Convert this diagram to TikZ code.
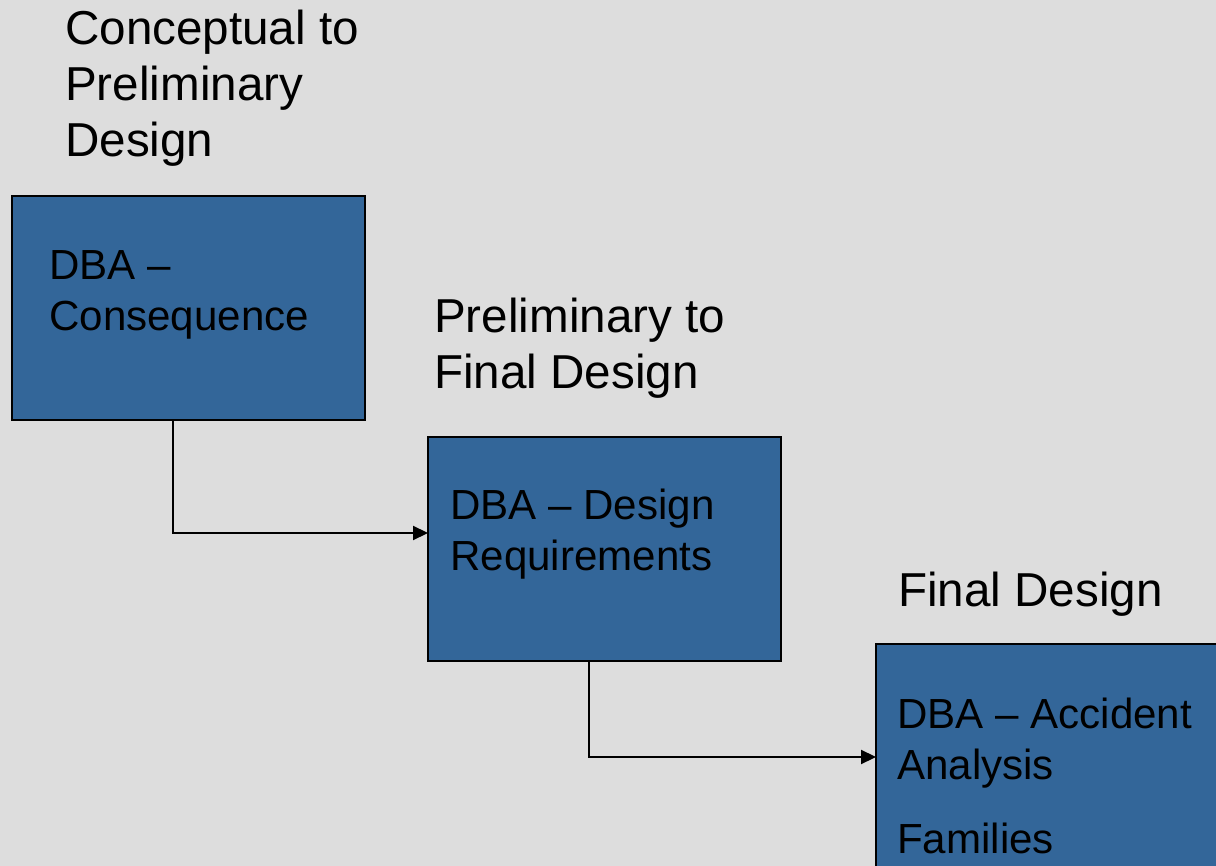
\documentclass[tikz,border=0pt]{standalone}
\usepackage{fontspec}
\setmainfont{Liberation Sans}
\usetikzlibrary{arrows.meta}
\definecolor{slidebg}{HTML}{DDDDDD}
\definecolor{stepblue}{HTML}{336699}
\tikzset{
  stepbox/.style={draw=black, line width=2pt, fill=stepblue, rectangle,
    minimum width=353pt, minimum height=224pt, inner sep=0pt, outer sep=0pt,
    anchor=north west},
  plaintext/.style={anchor=base west, inner sep=0pt, align=left,
    execute at begin node={\spaceskip=0pt\xspaceskip=0pt}},
  phase/.style={plaintext, text width=340pt, font=\fontsize{47.6}{56}\selectfont},
  boxtext/.style={plaintext, text width=330pt, font=\fontsize{42.1}{51}\selectfont},
  conn/.style={draw=black, line width=2.2pt, -{Triangle[length=15pt,width=14pt]}}
}
\begin{document}
\begin{tikzpicture}[x=1pt, y=-1pt]
  % page area and background
  \useasboundingbox (0,0) rectangle (1216,866);
  \clip (0,0) rectangle (1216,866);
  \fill[slidebg] (0,0) rectangle (1216,866);

  % phase headings
  \node[phase] (h1) at (65,45) {Conceptual to\\Preliminary\\Design};
  \node[phase] (h2) at (434,333) {Preliminary to\\Final Design};
  \node[phase] (h3) at (898,606) {Final Design};

  % step boxes
  \node[stepbox] (b1) at (12,196) {};
  \node[stepbox] (b2) at (428,437) {};
  \node[stepbox] (b3) at (876,644) {};

  % box labels
  \node[boxtext] (t1) at (49,280) {DBA --\\Consequence};
  \node[boxtext] (t2) at (450,519) {DBA -- Design\\Requirements};
  \node[boxtext] (t3) at (897,728) {DBA -- Accident\\Analysis\\[23pt]Families};

  % elbow connectors
  \coordinate (k1) at (173,533);
  \coordinate (k2) at (589,757);
  \draw[conn] (b1.south -| k1) -- (k1) -- (k1 -| b2.west);
  \draw[conn] (b2.south -| k2) -- (k2) -- (k2 -| b3.west);
\end{tikzpicture}
\end{document}
